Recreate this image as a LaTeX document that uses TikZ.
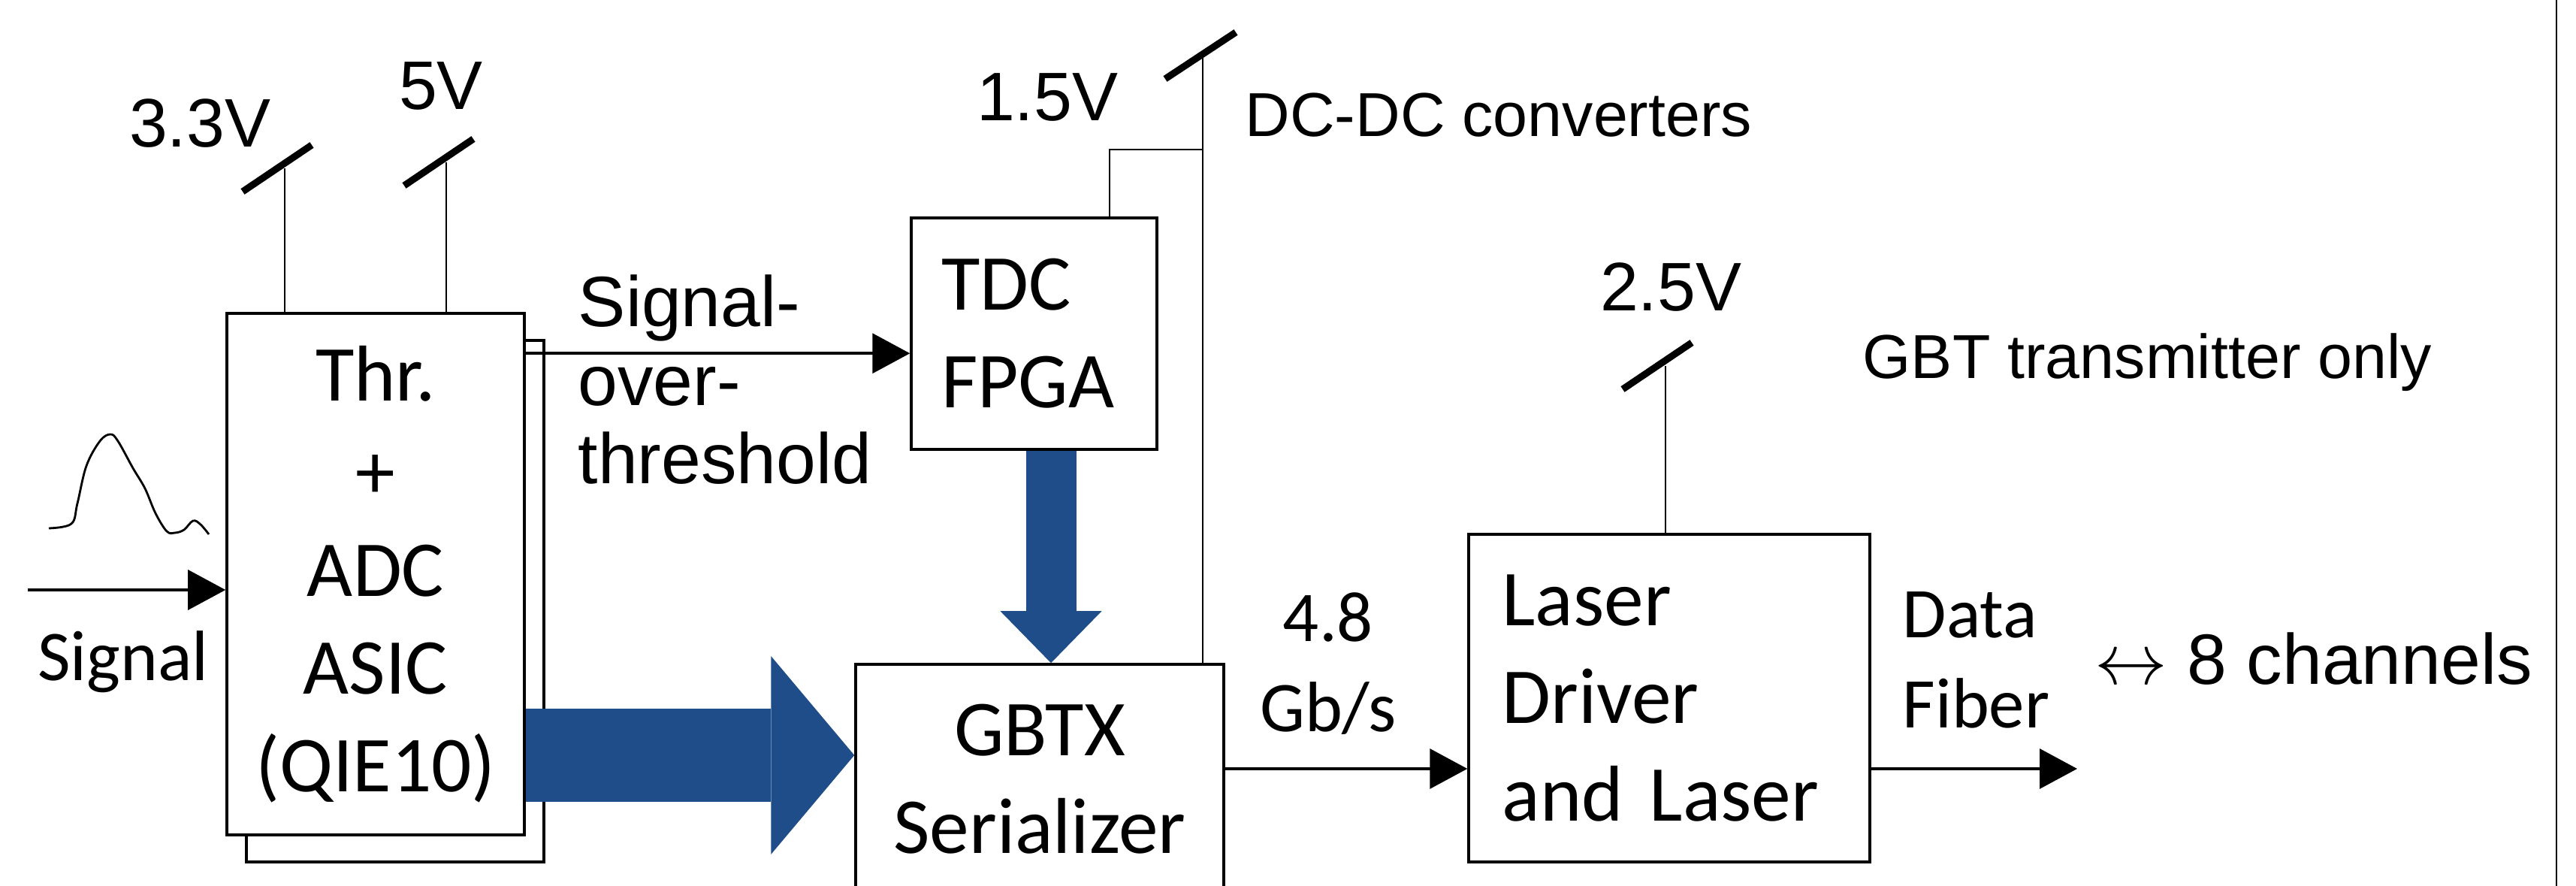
\documentclass[tikz,border=0pt]{standalone}
\usepackage{fontspec}
\newfontfamily\arialfont{Liberation Sans}
\newfontfamily\calibfont{Carlito}
\usetikzlibrary{arrows.meta,shadows}
\definecolor{busblue}{RGB}{31,77,138}

\begin{document}
\begin{tikzpicture}[
  blk/.style={draw, line width=1pt, fill=white, inner sep=0pt, align=center, font=\calibfont\fontsize{30}{37}\selectfont},
  flow/.style={line width=1pt, -{Triangle[length=0.5cm, width=0.53cm]}},
  rail/.style={line width=0.7pt},
  slash/.style={line width=2.6pt},
  tag/.style={inner sep=0pt, font=\calibfont\fontsize{27}{34}\selectfont},
  volt/.style={inner sep=0pt, font=\arialfont\fontsize{26}{30}\selectfont},
  note/.style={inner sep=0pt, font=\arialfont\fontsize{23.5}{29}\selectfont}]
  \useasboundingbox (0,0) rectangle (34.290,11.790);
% blocks
\node[blk, minimum width=3.96cm, minimum height=6.94cm, copy shadow={shadow xshift=0.26cm, shadow yshift=-0.36cm}] (asic) at (5.000,4.150) {Thr.\\+\\ADC\\ASIC\\(QIE10)};
\node[blk, minimum width=3.27cm, minimum height=3.08cm, text width=2.47cm, align=left] (tdc) at (13.765,7.350) {TDC\\FPGA};
\node[blk, minimum width=4.90cm, minimum height=3.05cm] (gbtx) at (13.840,1.425) {GBTX\\Serializer};
\node[blk, minimum width=5.34cm, minimum height=4.36cm, text width=4.45cm, align=left] (laser) at (22.220,2.500) {Laser\\Driver\\and Laser};
% supply rails
\coordinate (v33) at (3.790,9.550);
\coordinate (v5) at (5.940,9.630);
\coordinate (v15) at (16.010,11.050);
\coordinate (v25) at (22.170,6.920);
\coordinate (j15) at (16.010,9.800);
\draw[rail] (v33) -- (v33 |- asic.north);
\draw[rail] (v5) -- (v5 |- asic.north);
\draw[rail] (v15) -- (v15 |- gbtx.north);
\draw[rail] ([xshift=1.005cm]tdc.north) |- (j15);
\draw[rail] (v25) -- (v25 |- laser.north);
\draw[slash] ([shift={(-0.56,-0.31)}]v33) -- ([shift={(0.36,0.31)}]v33);
\draw[slash] ([shift={(-0.56,-0.31)}]v5) -- ([shift={(0.36,0.31)}]v5);
\draw[slash] ([shift={(-0.50,-0.31)}]v15) -- ([shift={(0.44,0.31)}]v15);
\draw[slash] ([shift={(-0.57,-0.31)}]v25) -- ([shift={(0.35,0.31)}]v25);
\node[volt] (l33) at (2.660,10.150) {3.3V};
\node[volt] (l5) at (5.870,10.640) {5V};
\node[volt] (l15) at (13.940,10.490) {1.5V};
\node[volt] (l25) at (22.240,7.970) {2.5V};
\node[note, anchor=base west] (dcdc) at (16.570,9.970) {DC-DC converters};
\node[note, anchor=base west] (gbtonly) at (24.790,6.750) {GBT transmitter only};
% input signal
\coordinate (in) at (0.370,3.940);
\draw[flow] (in) -- (in -| asic.west);
\node[tag, anchor=base] (sig) at (1.640,2.730) {Signal};
\draw[line width=0.8pt] plot[smooth, tension=0.6] coordinates {(0.65,4.76) (0.95,4.82) (1.03,5.09) (1.15,5.59) (1.33,5.92) (1.47,6.01) (1.57,5.92) (1.77,5.56) (1.93,5.29) (2.07,4.96) (2.22,4.72) (2.33,4.70) (2.45,4.74) (2.57,4.86) (2.67,4.81) (2.78,4.68)};
% signal-over-threshold
\coordinate (sot) at ([yshift=-0.55cm]asic.north east);
\draw[flow] (sot) -- (sot -| tdc.west);
\node[inner sep=0pt, anchor=north west, align=left, font=\arialfont\fontsize{27}{29.8}\selectfont] (sotlbl) at (7.690,8.140) {Signal-\\over-\\threshold};
% data buses
\coordinate (busmid) at (9.000,1.740);
\draw[busblue, line width=1.24cm, -{Triangle[length=1.11cm, width=2.64cm, line width=0pt]}] (busmid -| asic.east) -- (busmid -| gbtx.west);
\coordinate (dn) at (13.990,4.500);
\draw[busblue, line width=0.67cm, -{Triangle[length=0.69cm, width=1.35cm, line width=0pt]}] (dn |- tdc.south) -- (dn |- gbtx.north);
% serial link
\coordinate (link) at (18.000,1.560);
\coordinate (fiber) at (27.650,1.560);
\draw[flow] (link -| gbtx.east) -- (link -| laser.west);
\draw[flow] (link -| laser.east) -- (fiber);
\node[tag, anchor=north, align=center] (rate) at (17.680,3.910) {4.8\\Gb/s};
\node[tag, anchor=north west, align=left] (datafib) at (25.320,3.920) {Data\\Fiber};
\node[inner sep=0pt, anchor=base west, font=\arialfont\fontsize{27}{32}\selectfont] (chan) at (27.880,2.680) {\scalebox{2.75}{\fontsize{10}{12}\selectfont$\leftrightarrow$} 8 channels};
\draw[line width=0.6pt] (34.030,0) -- (34.030,11.790);
\end{tikzpicture}
\end{document}
